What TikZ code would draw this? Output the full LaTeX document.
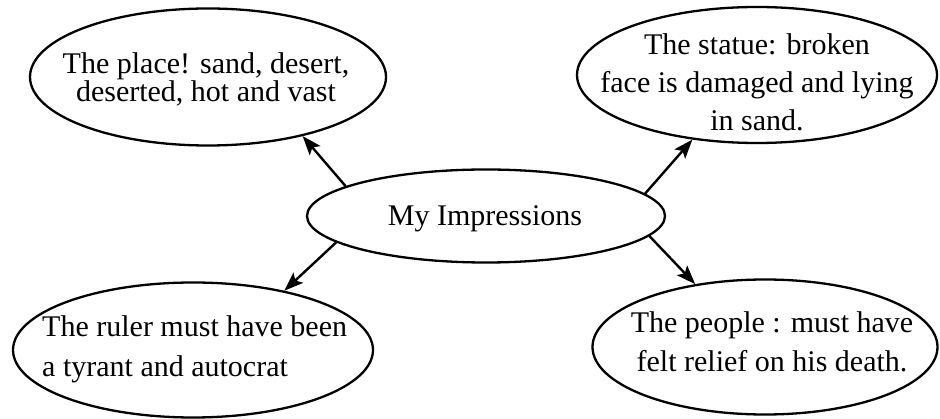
\documentclass[tikz,border=0pt]{standalone}
\usepackage{fontspec}
\setmainfont{Liberation Serif}
\usetikzlibrary{shapes.geometric,arrows.meta}
\newcommand\tightlead{\fontsize{30}{28}\selectfont\setlength{\lineskiplimit}{-20pt}}
\begin{document}
\begin{tikzpicture}[x=1pt,y=-1pt,
  bubble/.style={ellipse, draw, line width=2.3pt, inner sep=0pt},
  lbl/.style={inner sep=0pt, font=\fontsize{30}{38}\selectfont, align=center, anchor=base},
  conn/.style={-{Stealth[length=19pt,width=14pt,inset=4pt]}, line width=2.4pt}]
\useasboundingbox (0,0) rectangle (940,419);
% ellipses
\node[bubble, minimum width=356pt, minimum height=137pt] (tl) at (208,77) {};
\node[bubble, minimum width=360pt, minimum height=136pt] (tr) at (757,75) {};
\node[bubble, minimum width=358pt, minimum height=93pt]  (c)  at (486,216) {};
\node[bubble, minimum width=360pt, minimum height=135pt] (bl) at (193,350) {};
\node[bubble, minimum width=345pt, minimum height=135pt] (br) at (765,347) {};
% texts (anchor base = baseline of the last line)
\node[lbl, font=\tightlead] (tlT) at (206,102) {The place! sand, desert,\\deserted, hot and vast};
\node[lbl] (trT) at (757,131) {The statue: broken\\face is damaged and lying\\in sand.};
\node[lbl] (cT) at (485,226) {My Impressions};
\node[lbl, font=\fontsize{30}{40}\selectfont, align=left, anchor=base west] (blT) at (42,377) {The ruler must have been\\a tyrant and autocrat};
\node[lbl, font=\fontsize{30}{39}\selectfont] (brT) at (772,372) {The people : must have\\felt relief on his death.};
% connectors
\draw[conn] (c.168.6) -- (tl.-32.7);
\draw[conn] (c.8.3) -- (tr.-135.8);
\draw[conn] (c.190.7) -- (bl.33.1);
\draw[conn] (c.-7.9) -- (br.138.8);
\end{tikzpicture}
\end{document}
